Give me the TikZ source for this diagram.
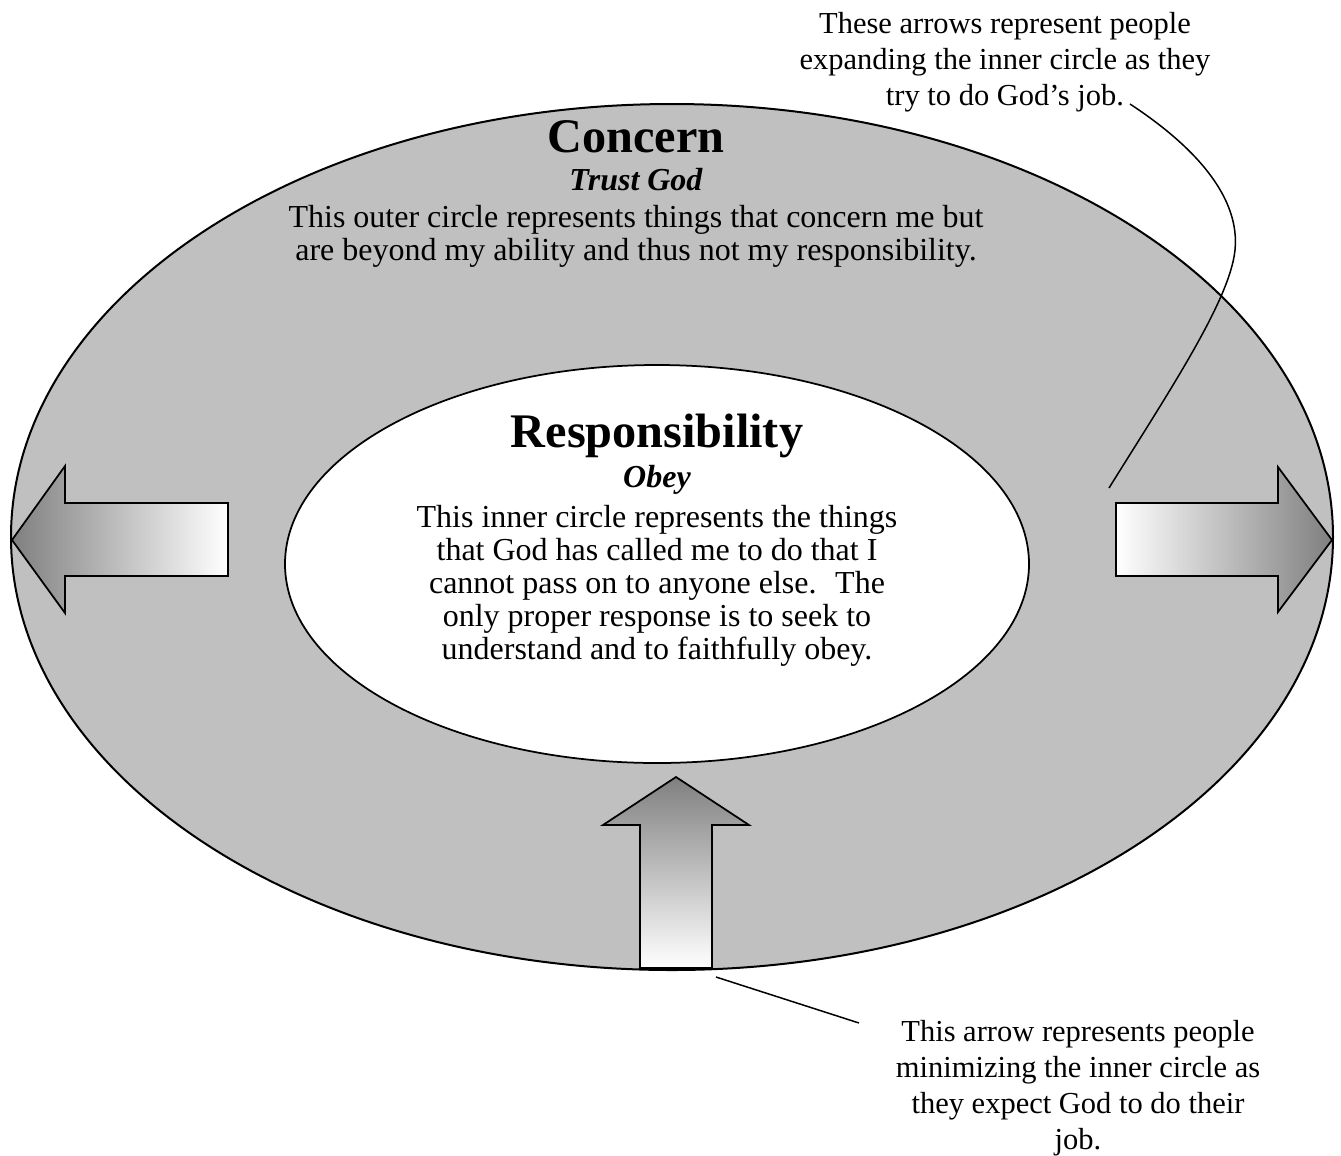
\documentclass[tikz,border=0pt]{standalone}
\usepackage{fontspec}
\setmainfont{Liberation Serif}
\usepackage{tikz}
\usetikzlibrary{positioning}
\definecolor{ringgray}{RGB}{192,192,192}
\tikzset{>=latex}

\begin{document}
\begin{tikzpicture}[x=0.4pt, y=-0.4pt]

  % px-like units, y grows downwards
  \tikzstyle{every node}=[inner sep=0pt, outer sep=0pt]
  \tikzstyle{heading}=[anchor=base, font=\fontsize{19.3}{22}\selectfont\bfseries]
  \tikzstyle{sublabel}=[anchor=base, font=\fontsize{12.8}{13.2}\selectfont\bfseries\itshape]
  \tikzstyle{body}=[anchor=north, align=center, font=\fontsize{12.8}{13.2}\selectfont]
  \tikzstyle{note}=[anchor=north, align=center, font=\fontsize{12.2}{14.4}\selectfont]
  \tikzstyle{bigarrow}=[draw=black, line width=0.7pt, line join=miter]
  \tikzstyle{pointer}=[draw=black, line width=0.6pt]

  \useasboundingbox (0,0) rectangle (1341,1155);

  % outer and inner circle
  \draw[line width=0.8pt, fill=ringgray] (672,537) ellipse [x radius=661, y radius=433];
  \draw[line width=0.7pt, fill=white] (657,564) ellipse [x radius=372, y radius=199];

  % arrows pushing the inner circle out
  \shade[bigarrow, left color=black!50, right color=white]
        (12,540) -- (65,466) -- (65,503) -- (228,503) -- (228,576)
        -- (65,576) -- (65,613) -- cycle;
  \shade[bigarrow, left color=white, right color=black!50]
        (1116,503) -- (1278,503) -- (1278,467) -- (1332,540) -- (1278,612)
        -- (1278,576) -- (1116,576) -- cycle;
  % arrow pushing it in
  \shade[bigarrow, top color=black!50, middle color=black!30, bottom color=white]
        (676,777) -- (749,825) -- (712,825) -- (712,968) -- (640,968)
        -- (640,825) -- (603,825) -- cycle;

  % outer circle text
  \node[heading] (concern) at (636,152) {Concern};
  \node[sublabel] (trust) at (636,190) {Trust God};
  \node[body] (outertxt) at (636,205)
        {This outer circle represents things that concern me but\\
         are beyond my ability and thus not my responsibility.};

  % inner circle text
  \node[heading] (resp) at (657,447) {Responsibility};
  \node[sublabel] (obey) at (657,487) {Obey};
  \node[body] (innertxt) at (657,505)
        {This inner circle represents the things\\
         that God has called me to do that I\\
         cannot pass on to anyone else.~ The\\
         only proper response is to seek to\\
         understand and to faithfully obey.};

  % notes
  \node[note] (expandnote) at (1005,12)
        {These arrows represent people\\
         expanding the inner circle as they\\
         try to do God's job.};
  \node[note] (shrinknote) at (1078,1020)
        {This arrow represents people\\
         minimizing the inner circle as\\
         they expect God to do their\\
         job.};

  \coordinate (jobend) at (1130,104);
  \coordinate (rightpt) at (1109,488);
  \draw[pointer] (jobend) .. controls (1200,150) and (1240,200) .. (1235,250)
        .. controls (1230,300) and (1170,390) .. (rightpt);

  \coordinate (bottompt) at (716,977);
  \coordinate (noteend) at (859,1023);
  \draw[pointer] (bottompt) -- (noteend);

\end{tikzpicture}
\end{document}
